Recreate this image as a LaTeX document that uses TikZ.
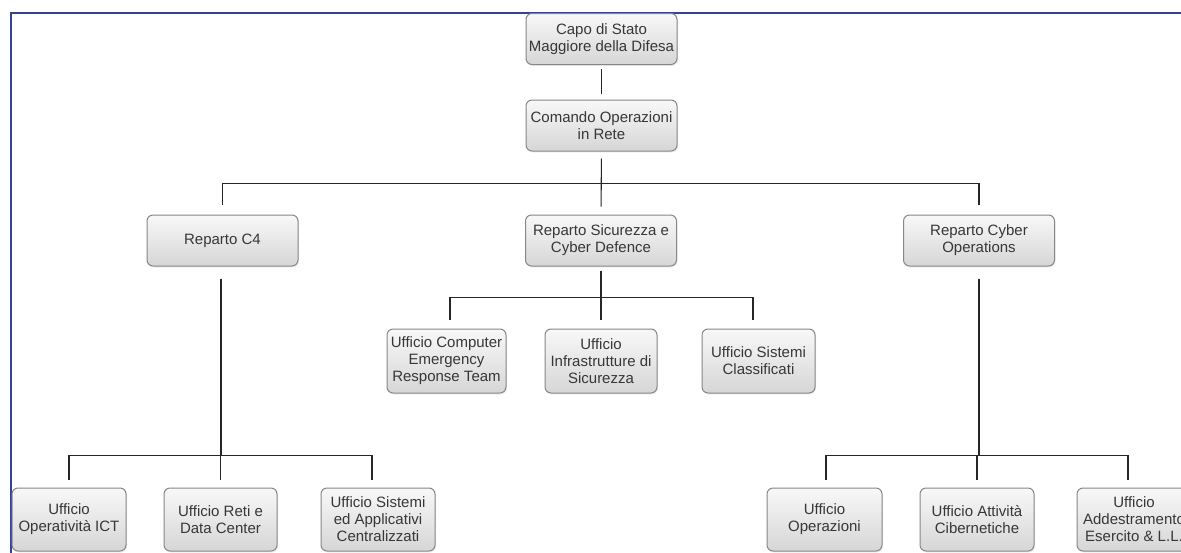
\documentclass[tikz,border=0pt]{standalone}
\usepackage{fontspec}
\setmainfont{Liberation Sans}
\usetikzlibrary{shadows}
\definecolor{frameblue}{RGB}{52,66,150}
\definecolor{boxline}{RGB}{135,135,135}
\definecolor{txt}{RGB}{55,55,55}
\definecolor{topfill}{RGB}{248,248,248}
\definecolor{botfill}{RGB}{214,214,214}
\begin{document}
\begin{tikzpicture}[x=1pt,y=-1pt,
  box/.style={draw=boxline, line width=1pt, rounded corners=6pt,
    top color=topfill, bottom color=botfill, text=txt, align=center,
    inner sep=0pt, font=\fontsize{15}{17}\selectfont,
    drop shadow={opacity=0.12, shadow xshift=1pt, shadow yshift=-1.5pt}},
  top/.style={box, minimum width=151pt, minimum height=51pt},
  sub/.style={box, minimum width=114pt, minimum height=64pt},
  bot/.style={box, minimum width=114pt, minimum height=63pt},
  conn/.style={draw=black!85, line width=1.1pt}]
\useasboundingbox (0,0) rectangle (1181,552);
\clip (0,0) rectangle (1181,552);
\fill[white] (0,0) rectangle (1181,552);
% frame
\draw[frameblue, line width=1.2pt] (11,560) -- (11,13) -- (1190,13);
% nodes
\node[top] (capo) at (601.5,39) {Capo di Stato\\Maggiore della Difesa};
\node[top] (comando) at (601.5,125.5) {Comando Operazioni\\in Rete};
\node[top] (rc4) at (222.5,240.5) {Reparto C4};
\node[top] (rsic) at (601,240.5) {Reparto Sicurezza e\\Cyber Defence};
\node[top] (rcyb) at (979,240.5) {Reparto Cyber\\Operations};
\node[sub, minimum width=119pt] (cert) at (446.5,361) {Ufficio Computer\\Emergency\\Response Team};
\node[sub, minimum width=112pt] (infra) at (601,361) {Ufficio\\Infrastrutture di\\Sicurezza};
\node[sub, minimum width=113pt] (class) at (758.5,361) {Ufficio Sistemi\\Classificati};
\node[bot] (oper) at (69,519.5) {Ufficio\\Operatività ICT};
\node[bot, minimum width=113pt] (reti) at (220.5,519.5) {Ufficio Reti e\\Data Center};
\node[bot] (sist) at (378,519.5) {Ufficio Sistemi\\ed Applicativi\\Centralizzati};
\node[bot, minimum width=115pt] (uop) at (824.5,519.5) {Ufficio\\Operazioni};
\node[bot] (att) at (977,519.5) {Ufficio Attività\\Cibernetiche};
\node[bot] (add) at (1134,519.5) {Ufficio\\Addestramento\\Esercito \& L.L.};
% connectors
\draw[conn, shorten <=4pt, shorten >=6pt] (capo.south) -- (comando.north);
\draw[conn, shorten <=7pt, shorten >=10pt] (comando.south) -- ++(0,32) -| (rc4.north);
\draw[conn, shorten <=7pt, shorten >=8pt] (comando.south) -- (rsic.north);
\draw[conn, shorten <=7pt, shorten >=10pt] (comando.south) -- ++(0,32) -| (rcyb.north);
\draw[conn, shorten <=4pt, shorten >=9pt] (rsic.south) -- ++(0,31) -| ([xshift=3.5pt]cert.north);
\draw[conn, shorten <=4pt, shorten >=9pt] (rsic.south) -- (infra.north);
\draw[conn, shorten <=4pt, shorten >=9pt] (rsic.south) -- ++(0,31) -| ([xshift=-5.5pt]class.north);
\draw[conn, shorten <=12pt, shorten >=8pt] ([xshift=-1.5pt]rc4.south) -- ++(0,189) -| (oper.north);
\draw[conn, shorten <=12pt, shorten >=8pt] ([xshift=-1.5pt]rc4.south) -- ++(0,189) -| (reti.north);
\draw[conn, shorten <=12pt, shorten >=8pt] ([xshift=-1.5pt]rc4.south) -- ++(0,189) -| ([xshift=-6pt]sist.north);
\draw[conn, shorten <=12pt, shorten >=8pt] (rcyb.south) -- ++(0,189) -| ([xshift=1.5pt]uop.north);
\draw[conn, shorten <=12pt, shorten >=8pt] (rcyb.south) -- ++(0,189) -| (att.north);
\draw[conn, shorten <=12pt, shorten >=8pt] (rcyb.south) -- ++(0,189) -| ([xshift=-6pt]add.north);
\end{tikzpicture}
\end{document}
